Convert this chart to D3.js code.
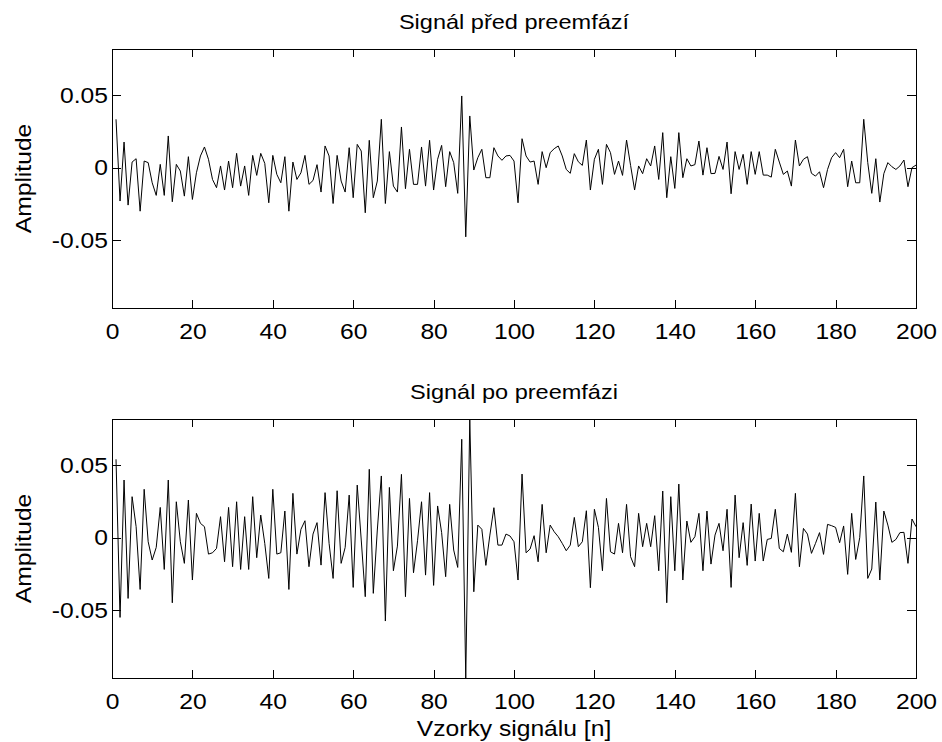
<!DOCTYPE html>
<html>
<head>
<meta charset="utf-8">
<script src="https://cdnjs.cloudflare.com/ajax/libs/d3/7.8.5/d3.min.js"></script>
<style>
body { margin: 0; background: #fff; }
svg text { font-family: Arial, "Liberation Sans", sans-serif; fill: #000; }
</style>
</head>
<body>
<div id="chart"></div>
<script>
// signal before pre-emphasis (samples 1..200)
var beforeEmph = [
  0.0334, -0.0230, 0.0177, -0.0258, 0.0039, 0.0062, -0.0300, 0.0046, 0.0035, -0.0104,
  -0.0191, 0.0023, -0.0191, 0.0219, -0.0235, 0.0023, -0.0023, -0.0196, 0.0076, -0.0219,
  -0.0035, 0.0081, 0.0143, 0.0058, -0.0081, -0.0138, 0.0012, -0.0154, 0.0046, -0.0138,
  0.0099, -0.0127, 0.0012, -0.0191, 0.0085, -0.0053, 0.0099, 0.0030, -0.0242, 0.0085,
  -0.0046, -0.0104, 0.0076, -0.0300, 0.0039, -0.0081, -0.0035, 0.0085, -0.0115, -0.0088,
  0.0021, -0.0168, 0.0150, 0.0081, -0.0247, 0.0085, -0.0092, -0.0168, 0.0138, -0.0207,
  0.0161, 0.0115, -0.0311, 0.0189, -0.0207, -0.0092, 0.0334, -0.0247, 0.0111, -0.0127,
  -0.0168, 0.0281, -0.0145, 0.0127, -0.0115, -0.0115, 0.0143, -0.0127, 0.0189, -0.0154,
  0.0058, 0.0154, -0.0131, 0.0111, 0.0035, -0.0177, 0.0495, -0.0477, 0.0357, -0.0016,
  0.0069, 0.0127, -0.0069, -0.0069, 0.0138, 0.0081, 0.0051, 0.0081, 0.0085, 0.0046,
  -0.0242, 0.0200, 0.0081, 0.0039, 0.0046, -0.0115, 0.0111, 0.0000, 0.0104, 0.0131,
  0.0150, 0.0081, -0.0012, -0.0039, 0.0097, 0.0041, 0.0016, 0.0191, -0.0154, 0.0058,
  0.0127, -0.0115, 0.0161, 0.0104, -0.0046, 0.0046, -0.0053, 0.0191, 0.0016, -0.0154,
  0.0012, -0.0041, 0.0062, 0.0012, 0.0150, -0.0081, 0.0242, -0.0207, 0.0076, -0.0143,
  0.0242, -0.0069, 0.0062, 0.0012, 0.0021, 0.0184, -0.0051, 0.0138, -0.0041, -0.0039,
  0.0078, -0.0012, 0.0177, -0.0180, 0.0111, -0.0012, 0.0092, -0.0115, 0.0111, -0.0046,
  0.0111, -0.0051, -0.0051, -0.0065, 0.0127, 0.0039, -0.0046, -0.0023, -0.0127, 0.0191,
  0.0012, 0.0058, 0.0076, -0.0039, -0.0058, -0.0028, -0.0138, -0.0012, 0.0069, 0.0104,
  0.0069, 0.0127, -0.0131, 0.0046, -0.0104, -0.0104, 0.0334, 0.0035, -0.0177, 0.0062,
  -0.0237, -0.0041, 0.0035, 0.0007, -0.0012, 0.0012, 0.0053, -0.0131, 0.0000, 0.0018
];

// signal after pre-emphasis
var afterEmph = [
  0.0541, -0.0550, 0.0398, -0.0419, 0.0283, 0.0076, -0.0357, 0.0334, -0.0028, -0.0154,
  -0.0067, 0.0209, -0.0219, 0.0398, -0.0449, 0.0248, -0.0028, -0.0177, 0.0260, -0.0292,
  0.0168, 0.0099, 0.0076, -0.0113, -0.0104, -0.0074, 0.0145, -0.0166, 0.0209, -0.0200,
  0.0248, -0.0219, 0.0145, -0.0219, 0.0283, -0.0138, 0.0156, -0.0039, -0.0281, 0.0334,
  -0.0113, -0.0104, 0.0184, -0.0357, 0.0306, -0.0113, 0.0058, 0.0117, -0.0200, 0.0025,
  0.0104, -0.0189, 0.0311, -0.0039, -0.0281, 0.0324, -0.0177, -0.0067, 0.0294, -0.0343,
  0.0363, -0.0016, -0.0407, 0.0472, -0.0384, 0.0053, 0.0426, -0.0575, 0.0347, -0.0228,
  -0.0058, 0.0437, -0.0407, 0.0271, -0.0242, -0.0021, 0.0248, -0.0258, 0.0311, -0.0329,
  0.0219, 0.0035, -0.0269, 0.0230, -0.0085, -0.0205, 0.0679, -0.0968, 0.0819, -0.0373,
  0.0087, 0.0058, -0.0191, 0.0018, 0.0207, -0.0051, -0.0051, 0.0025, 0.0012, -0.0028,
  -0.0292, 0.0439, -0.0104, -0.0078, 0.0014, -0.0166, 0.0230, -0.0104, 0.0087, 0.0041,
  0.0007, -0.0039, -0.0090, -0.0051, 0.0140, -0.0062, -0.0028, 0.0186, -0.0345, 0.0196,
  0.0071, -0.0228, 0.0271, -0.0097, -0.0113, 0.0099, -0.0104, 0.0230, -0.0131, -0.0200,
  0.0168, -0.0062, 0.0099, -0.0062, 0.0152, -0.0228, 0.0322, -0.0449, 0.0283, -0.0228,
  0.0370, -0.0292, 0.0115, -0.0032, 0.0007, 0.0168, -0.0228, 0.0184, -0.0182, 0.0018,
  0.0099, -0.0090, 0.0196, -0.0343, 0.0294, -0.0138, 0.0104, -0.0191, 0.0232, -0.0161,
  0.0168, -0.0161, -0.0012, -0.0005, 0.0196, -0.0074, -0.0097, 0.0025, -0.0101, 0.0306,
  -0.0200, 0.0064, 0.0025, -0.0108, -0.0039, 0.0035, -0.0115, 0.0092, 0.0083, 0.0071,
  -0.0035, 0.0081, -0.0253, 0.0168, -0.0150, 0.0000, 0.0426, -0.0281, -0.0216, 0.0246,
  -0.0292, 0.0184, 0.0087, -0.0032, -0.0012, 0.0035, 0.0037, -0.0177, 0.0129, 0.0076
];

var titles = ['Signál před preemfází', 'Signál po preemfázi'];
var yLabel = 'Amplitude';
var xLabel = 'Vzorky signálu [n]';
var xTicks = [0, 20, 40, 60, 80, 100, 120, 140, 160, 180, 200];
var yTicks = [-0.05, 0, 0.05];
var yTickLabels = ['-0.05', '0', '0.05'];

var width = 942, height = 742;
var left = 112, right = 916, plotH = 259;
var stretch = 1.12;

var svg = d3.select('#chart').append('svg')
    .attr('width', width)
    .attr('height', height)
    .style('background', '#fff');

var x = d3.scaleLinear().domain([0, 200]).range([left, right]);
// both panels share the limits of the emphasised signal (axis tight)
var yLim = d3.extent(afterEmph);

var panels = [
  { title: titles[0], values: beforeEmph, top: 49 },
  { title: titles[1], values: afterEmph, top: 419 }
];

panels.forEach(function(p, pi) {
  var g = svg.append('g').attr('transform', 'translate(0,' + p.top + ')');
  var y = d3.scaleLinear().domain(yLim).range([plotH, 0]);

  var line = d3.line()
      .x(function(d, i) { return x(i + 1); })
      .y(function(d) { return y(d); });

  g.append('path')
      .datum(p.values)
      .attr('fill', 'none')
      .attr('stroke', '#000')
      .attr('stroke-width', 1)
      .attr('d', line);

  // bottom axis with labels, ticks pointing in
  g.append('g')
      .attr('transform', 'translate(0,' + plotH + ')')
      .call(d3.axisBottom(x).tickValues(xTicks).tickSizeInner(-8).tickSizeOuter(0).tickPadding(15.5))
      .call(styleAxis);

  g.append('g')
      .call(d3.axisTop(x).tickValues(xTicks).tickSizeInner(-8).tickSizeOuter(0).tickFormat(''))
      .call(styleAxis);

  g.append('g')
      .attr('transform', 'translate(' + left + ',0)')
      .call(d3.axisLeft(y).tickValues(yTicks).tickSizeInner(-9).tickSizeOuter(0).tickPadding(4)
        .tickFormat(function(d, i) { return yTickLabels[i]; }))
      .call(styleAxis);

  g.append('g')
      .attr('transform', 'translate(' + right + ',0)')
      .call(d3.axisRight(y).tickValues(yTicks).tickSizeInner(-9).tickSizeOuter(0).tickFormat(''))
      .call(styleAxis);

  g.append('rect')
      .attr('x', left + 0.5)
      .attr('y', 0.5)
      .attr('width', right - left)
      .attr('height', plotH)
      .attr('fill', 'none')
      .attr('stroke', '#000')
      .attr('stroke-width', 1);

  g.append('text')
      .attr('x', (left + right) / 2)
      .attr('y', -20)
      .attr('text-anchor', 'middle')
      .style('font-size', '21px')
      .text(p.title);

  g.append('text')
      .attr('transform', 'translate(31,' + (plotH / 2) + ') rotate(-90)')
      .attr('text-anchor', 'middle')
      .style('font-size', '22px')
      .text(yLabel);
});

svg.append('text')
    .attr('x', (left + right) / 2)
    .attr('y', 736)
    .attr('text-anchor', 'middle')
    .style('font-size', '22px')
    .text(xLabel);

function styleAxis(sel) {
  sel.select('.domain').remove();
  sel.attr('font-family', null).attr('font-size', null);
  sel.selectAll('line').attr('stroke', '#000').attr('shape-rendering', 'crispEdges');
  sel.selectAll('text').style('font-size', '22px').attr('fill', '#000');
}

// the reference glyphs are a bit wider than Arial, stretch them a little
svg.selectAll('text').each(function() {
  var w = this.getComputedTextLength();
  if (w > 0) {
    d3.select(this).attr('textLength', w * stretch).attr('lengthAdjust', 'spacingAndGlyphs');
  }
});
</script>
</body>
</html>
